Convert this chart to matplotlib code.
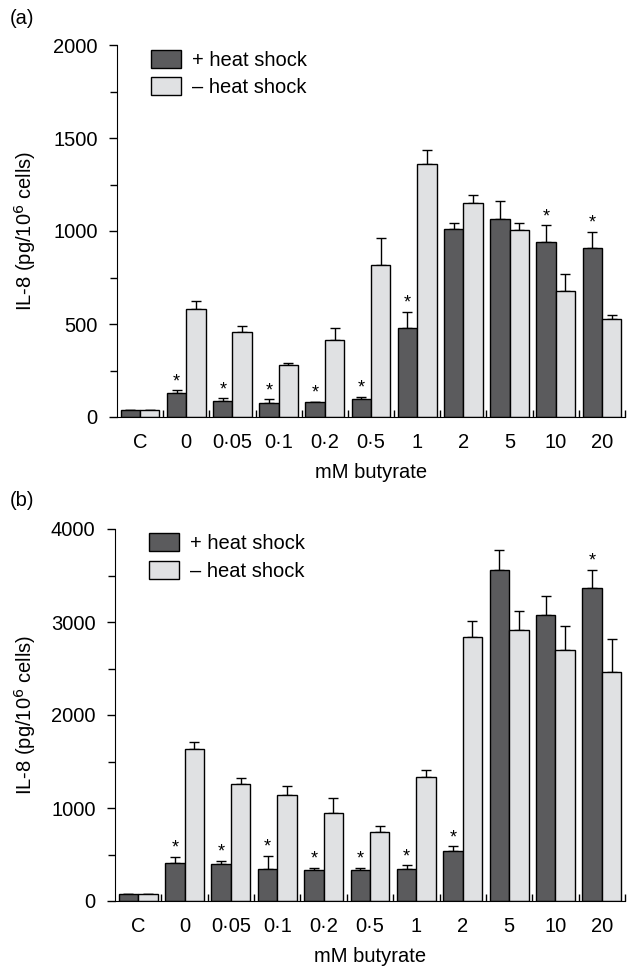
import matplotlib
matplotlib.use("Agg")
import matplotlib.pyplot as plt
from matplotlib.patches import Patch
from matplotlib.ticker import MultipleLocator

plt.rcParams['font.family'] = ['Liberation Sans', 'DejaVu Sans']

categories = ["C", "0", "0·05", "0·1", "0·2", "0·5", "1", "2", "5", "10", "20"]

# Panel (a)
a_heat = [35, 131, 84, 77, 81, 95, 481, 1013, 1065, 943, 909]
a_heat_err = [0, 12, 16, 18, 0, 14, 84, 31, 94, 87, 85]
a_noheat = [35, 581, 456, 278, 414, 818, 1361, 1153, 1006, 678, 527]
a_noheat_err = [0, 43, 32, 13, 67, 143, 72, 40, 36, 90, 24]
a_star = [False, True, True, True, True, True, True, False, False, True, True]

# Panel (b)
b_heat = [79, 409, 399, 348, 330, 330, 348, 542, 3558, 3070, 3364]
b_heat_err = [0, 65, 32, 137, 29, 25, 36, 47, 219, 208, 198]
b_noheat = [79, 1630, 1260, 1145, 951, 747, 1336, 2837, 2919, 2704, 2463]
b_noheat_err = [0, 83, 65, 90, 159, 64, 68, 176, 201, 255, 352]
b_star = [False, True, True, True, True, True, True, True, False, False, True]

DARK = "#5b5b5d"
LIGHT = "#e0e1e3"
FS = 14.5

W, H = 628, 967
fig = plt.figure(figsize=(W / 100, H / 100), dpi=100)


def panel(rect, heat, heat_err, noheat, noheat_err, stars, ymax, major, letter, letter_y,
          leg_anchor):
    ax = fig.add_axes(rect)
    x = list(range(len(categories)))
    bw = 0.42
    xd = [i - bw / 2 for i in x]
    xl = [i + bw / 2 for i in x]
    ax.bar(xd, heat, width=bw, color=DARK, edgecolor="black", linewidth=1.0, zorder=2)
    ax.bar(xl, noheat, width=bw, color=LIGHT, edgecolor="black", linewidth=1.0, zorder=2)
    ekw = dict(fmt="none", ecolor="black", elinewidth=1.0, capsize=3.5, capthick=1.0, zorder=1)
    ax.errorbar(xd, heat, yerr=[[0] * len(heat), heat_err], **ekw)
    ax.errorbar(xl, noheat, yerr=[[0] * len(noheat), noheat_err], **ekw)
    for i, s in enumerate(stars):
        if s:
            ax.annotate("*", (xd[i], heat[i] + heat_err[i]), xytext=(0, 3.0),
                        textcoords="offset points", ha="center", va="baseline", fontsize=13)
    ax.set_xlim(-0.5, len(categories) - 0.5)
    ax.set_ylim(0, ymax)
    for sp in ("top", "right"):
        ax.spines[sp].set_visible(False)
    ax.yaxis.set_major_locator(MultipleLocator(major))
    ax.yaxis.set_minor_locator(MultipleLocator(major / 2))
    ax.tick_params(axis="y", which="major", length=6, width=1, labelsize=FS, pad=8)
    ax.tick_params(axis="y", which="minor", length=5, width=1)
    # x: boundary ticks inside, labels at centers
    ax.set_xticks([i + 0.5 for i in x[:-1]] + [len(categories) - 0.5])
    ax.set_xticklabels([])
    ax.tick_params(axis="x", which="major", direction="in", length=5, width=1)
    for i, c in enumerate(categories):
        ax.text(i, -0.068, c, transform=ax.get_xaxis_transform(), ha="center", va="center",
                fontsize=FS)
    ax.text(0.5, -0.150, "mM butyrate", transform=ax.transAxes, ha="center", va="center",
            fontsize=FS)
    ax.legend(handles=[Patch(facecolor=DARK, edgecolor="black", label="+ heat shock"),
                       Patch(facecolor=LIGHT, edgecolor="black", label="– heat shock")],
              loc="upper left", bbox_to_anchor=leg_anchor, frameon=False, fontsize=FS,
              handlelength=1.5, handleheight=1.0, handletextpad=0.55, labelspacing=0.38,
              borderaxespad=0, borderpad=0)
    fig.text(10 / W, letter_y, letter, fontsize=FS, ha="left", va="center")
    fig.text(25 / W, rect[1] + rect[3] / 2, "IL-8 (pg/10$^{6}$ cells)", rotation=90,
             ha="center", va="center", fontsize=FS)
    return ax


panel([117 / W, 1 - 417 / H, 508 / W, 372 / H], a_heat, a_heat_err, a_noheat, a_noheat_err,
      a_star, 2000, 500, "(a)", 1 - 19 / H, (0.067, 0.987))
panel([115 / W, 1 - 901 / H, 510 / W, 372 / H], b_heat, b_heat_err, b_noheat, b_noheat_err,
      b_star, 4000, 1000, "(b)", 1 - 500 / H, (0.067, 0.989))

fig.savefig("out.png", dpi=100)
